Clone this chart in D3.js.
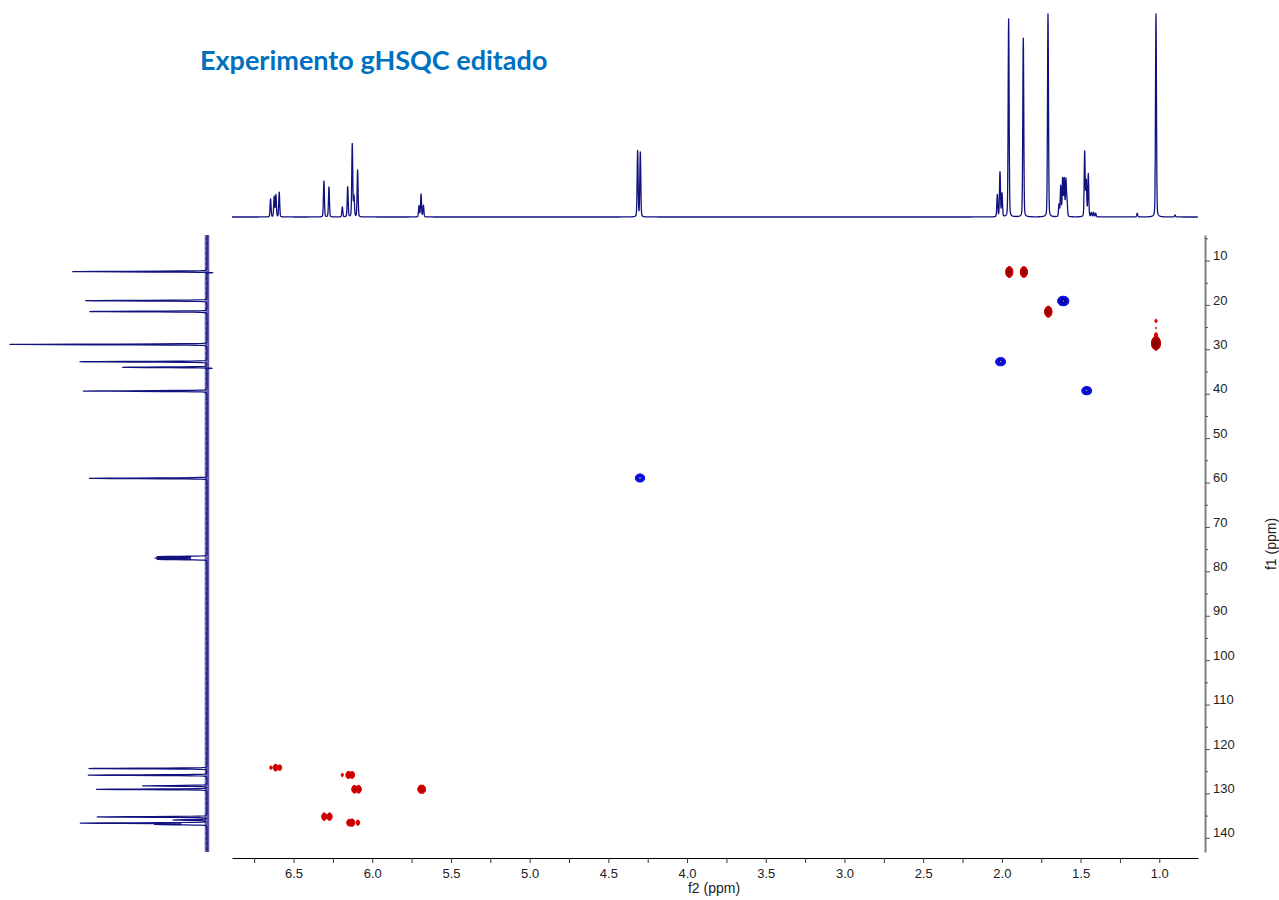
<!DOCTYPE html>
<html>
<head>
<meta charset="utf-8">
<script src="https://cdn.jsdelivr.net/npm/d3@7"></script>
<style>
  html, body { margin: 0; padding: 0; background: #ffffff; }
  svg { display: block; }
  .tick text, .lbl { font-family: "Liberation Sans", Arial, sans-serif; fill: #222; }
</style>
</head>
<body>
<svg id="chart" width="1279" height="900"></svg>
<script>
// ---------- data ----------
// 1H projection: line positions (ppm) and heights relative to the tallest line
const h1Shift  = [6.646, 6.623, 6.612, 6.591, 6.307, 6.275, 6.190, 6.156, 6.127, 6.116, 6.093,
                  5.703, 5.690, 5.675, 4.314, 4.297, 2.029, 2.012, 1.999, 1.957, 1.864, 1.707,
                  1.637, 1.626, 1.614, 1.604, 1.593, 1.586, 1.474, 1.464, 1.451, 1.432, 1.418,
                  1.404, 1.140, 1.021, 0.900];
const h1Height = [0.088, 0.100, 0.108, 0.122, 0.177, 0.148, 0.049, 0.148, 0.360, 0.100, 0.230,
                  0.054, 0.112, 0.057, 0.325, 0.318, 0.108, 0.220, 0.115, 0.975, 0.880, 1.000,
                  0.060, 0.150, 0.185, 0.185, 0.180, 0.070, 0.320, 0.175, 0.210, 0.020, 0.022,
                  0.018, 0.018, 1.000, 0.010];

// 13C projection: line positions (ppm) and heights relative to the tallest line
const c13Shift  = [12.5, 12.7, 19.05, 21.5, 28.9, 32.8, 34.05, 34.25, 39.4, 59.05, 76.7, 77.0, 77.3,
                   124.4, 125.9, 128.3, 129.1, 135.3, 136.0, 136.7, 137.0];
const c13Height = [0.684, -0.050, 0.616, 0.595, 1.000, 0.645, 0.430, -0.040, 0.628, 0.597, 0.250, 0.260, 0.250,
                   0.599, 0.602, 0.326, 0.560, 0.557, 0.171, 0.640, 0.260];

// HSQC cross peaks: 1H shift, 13C shift, signed intensity (negative = CH2 phase)
const hsqcH = [1.953, 1.860, 1.705, 1.021, 1.021, 1.021, 1.021, 1.610, 2.008, 1.461, 4.299,
               6.644, 6.614, 6.587, 6.190, 6.152, 6.127, 6.114, 6.086, 5.694, 5.678,
               6.305, 6.271, 6.148, 6.127, 6.091];
const hsqcC = [12.59, 12.59, 21.53, 28.65, 26.78, 25.20, 23.60, 19.12, 32.79, 39.32, 58.98,
               124.2, 124.2, 124.2, 125.85, 125.85, 125.85, 129.07, 129.07, 129.07, 129.07,
               135.24, 135.24, 136.6, 136.6, 136.6];
const hsqcI = [0.80, 0.78, 0.90, 6.0, 0.040, 0.022, 0.030, -0.88, -0.36, -0.36, -0.28,
               0.030, 0.085, 0.055, 0.030, 0.100, 0.090, 0.130, 0.130, 0.130, 0.130,
               0.120, 0.120, 0.080, 0.110, 0.050];

// axis ticks
const f2Ticks  = [6.75, 6.5, 6.25, 6.0, 5.75, 5.5, 5.25, 5.0, 4.75, 4.5, 4.25, 4.0, 3.75, 3.5,
                  3.25, 3.0, 2.75, 2.5, 2.25, 2.0, 1.75, 1.5, 1.25, 1.0];
const f2Labels = [6.5, 6.0, 5.5, 5.0, 4.5, 4.0, 3.5, 3.0, 2.5, 2.0, 1.5, 1.0];
const f1Ticks  = [5, 15, 25, 35, 45, 55, 65, 75, 85, 95, 105, 115, 125, 135];
const f1Labels = [10, 20, 30, 40, 50, 60, 70, 80, 90, 100, 110, 120, 130, 140];

const titleText = "Experimento gHSQC editado";
const f2Title = "f2 (ppm)";
const f1Title = "f1 (ppm)";

// ---------- layout ----------
const svg = d3.select("#chart");
const P = { x0: 232, x1: 1198, y0: 235, y1: 852 };

const x = d3.scaleLinear().domain([6.891, 0.754]).range([P.x0, P.x1]);   // f2 (1H)
const y = d3.scaleLinear().domain([4.26, 143.2]).range([P.y0, P.y1]);    // f1 (13C)
const hY = d3.scaleLinear().domain([0, 1]).range([217, 14]);             // 1H trace height
const cX = d3.scaleLinear().domain([0, 1]).range([207, 10]);             // 13C trace height

const traceColor = "#12127f";

// pseudo-Voigt line shape, d in half-widths
function lineShape(d, eta) {
  return eta / (1 + d * d) + (1 - eta) * Math.exp(-Math.LN2 * d * d);
}

// ---------- title ----------
svg.append("text")
  .attr("x", 200).attr("y", 70)
  .style("font-family", "Lato, 'Open Sans', sans-serif")
  .style("font-weight", 700)
  .style("font-size", "27px")
  .attr("fill", "#0070c0")
  .text(titleText);

// ---------- 1H projection ----------
const h1HW = 0.0036;
const h1Pts = [];
{
  const grid = d3.range(x.domain()[0], x.domain()[1], -0.001).concat(h1Shift).sort((a, b) => b - a);
  grid.forEach(p => {
    let v = 0;
    for (let i = 0; i < h1Shift.length; i++) {
      v += h1Height[i] * lineShape((p - h1Shift[i]) / h1HW, 0.2);
    }
    h1Pts.push([p, v]);
  });
}
svg.append("path")
  .datum(h1Pts)
  .attr("fill", "none")
  .attr("stroke", traceColor)
  .attr("stroke-width", 1.3)
  .attr("stroke-linejoin", "round")
  .attr("d", d3.line().x(d => x(d[0])).y(d => hY(Math.min(d[1], 1))));

// ---------- 13C projection ----------
// noisy baseline band
svg.append("line")
  .attr("x1", cX(0)).attr("x2", cX(0))
  .attr("y1", P.y0).attr("y2", P.y1)
  .attr("stroke", traceColor)
  .attr("stroke-width", 4.5)
  .attr("stroke-opacity", 0.7);
svg.append("line")
  .attr("x1", cX(0) - 0.8).attr("x2", cX(0) - 0.8)
  .attr("y1", P.y0).attr("y2", P.y1)
  .attr("stroke", "#ffffff")
  .attr("stroke-width", 1.2)
  .attr("stroke-dasharray", "2,3")
  .attr("stroke-opacity", 0.45);

const c13HW = 0.09;
const c13Pts = [];
{
  const grid = d3.range(y.domain()[0], y.domain()[1], 0.03).concat(c13Shift).sort((a, b) => a - b);
  grid.forEach(p => {
    let v = 0;
    for (let i = 0; i < c13Shift.length; i++) {
      v += c13Height[i] * lineShape((p - c13Shift[i]) / c13HW, 0.1);
    }
    c13Pts.push([p, v]);
  });
}
svg.append("path")
  .datum(c13Pts)
  .attr("fill", "none")
  .attr("stroke", traceColor)
  .attr("stroke-width", 1.2)
  .attr("stroke-linejoin", "round")
  .attr("d", d3.line().x(d => cX(d[1])).y(d => y(d[0])));

// ---------- HSQC contour map ----------
const posSig = [0.0083, 0.45];   // Gaussian sigma (1H ppm, 13C ppm), positive phase
const negSig = [0.0127, 0.38];   // negative phase
const S = 2;                     // samples per pixel
const nx = Math.round((P.x1 - P.x0) * S), ny = Math.round((P.y1 - P.y0) * S);
const field = new Float64Array(nx * ny);

hsqcH.forEach((h, k) => {
  const c = hsqcC[k], I = hsqcI[k];
  const sig = I > 0 ? posSig : negSig;
  const cx = (x(h) - P.x0) * S, cy = (y(c) - P.y0) * S;
  const sx = Math.abs(x(h + sig[0]) - x(h)) * S;
  const sy = Math.abs(y(c + sig[1]) - y(c)) * S;
  const i0 = Math.max(0, Math.floor(cx - 5 * sx)), i1 = Math.min(nx - 1, Math.ceil(cx + 5 * sx));
  const j0 = Math.max(0, Math.floor(cy - 5 * sy)), j1 = Math.min(ny - 1, Math.ceil(cy + 5 * sy));
  for (let j = j0; j <= j1; j++) {
    const dy = (j + 0.5 - cy) / sy;
    for (let i = i0; i <= i1; i++) {
      const dx = (i + 0.5 - cx) / sx;
      field[j * nx + i] += I * Math.exp(-0.5 * (dx * dx + dy * dy));
    }
  }
});

const levels = d3.range(24).map(k => 0.02 * Math.pow(1.35, k));
const posColor = d3.scaleLinear().domain([0, 4, 11]).range(["#e60000", "#c80000", "#900000"]).clamp(true);
const negColor = d3.scaleLinear().domain([0, 12]).range(["#1c1cff", "#0000a0"]).clamp(true);

const contourGen = d3.contours().size([nx, ny]).thresholds(levels);
const posContours = contourGen(field).filter(d => d.coordinates.length);
const negContours = contourGen(field.map(v => -v)).filter(d => d.coordinates.length);
const cpath = d3.geoPath(d3.geoIdentity().scale(1 / S).translate([P.x0, P.y0]));

const gMap = svg.append("g");
gMap.selectAll("path.pos").data(posContours).join("path")
  .attr("class", "pos")
  .attr("d", cpath)
  .attr("fill", d => posColor(levels.indexOf(d.value)))
  .attr("stroke", d => posColor(levels.indexOf(d.value)))
  .attr("stroke-width", 0.8);
gMap.selectAll("path.neg").data(negContours).join("path")
  .attr("class", "neg")
  .attr("d", cpath)
  .attr("fill", "none")
  .attr("stroke", d => negColor(levels.indexOf(d.value)))
  .attr("stroke-width", 1.1);

// ---------- f2 axis ----------
const fmt1 = d3.format(".1f");
const xAxis = svg.append("g")
  .attr("transform", "translate(0,858)")
  .call(d3.axisBottom(x)
    .tickValues(f2Ticks)
    .tickSize(5).tickSizeOuter(0).tickPadding(6)
    .tickFormat(v => f2Labels.includes(v) ? fmt1(v) : ""));
xAxis.select(".domain").attr("stroke", "#000").attr("stroke-width", 1.2);
xAxis.selectAll(".tick line").attr("stroke", "#333");
xAxis.selectAll(".tick text").style("font-size", "13px");

svg.append("text").attr("class", "lbl")
  .attr("x", 714).attr("y", 893)
  .attr("text-anchor", "middle")
  .style("font-size", "14px")
  .text(f2Title);

// ---------- f1 axis ----------
const yMinor = svg.append("g")
  .attr("transform", "translate(1205,0)")
  .call(d3.axisRight(y).tickValues(f1Ticks).tickSize(3).tickSizeOuter(0).tickFormat(""));
yMinor.select(".domain").attr("stroke", "#7f7f7f").attr("stroke-width", 2);
yMinor.selectAll(".tick line").attr("stroke", "#555");

const yMajor = svg.append("g")
  .attr("transform", "translate(1205,0)")
  .call(d3.axisRight(y).tickValues(f1Labels).tickSize(5).tickSizeOuter(0).tickPadding(3)
    .tickFormat(d3.format("d")));
yMajor.select(".domain").remove();
yMajor.selectAll(".tick line").attr("stroke", "#555");
yMajor.selectAll(".tick text").attr("y", -5).style("font-size", "13px");

svg.append("text").attr("class", "lbl")
  .attr("transform", "translate(1276,544) rotate(-90)")
  .attr("text-anchor", "middle")
  .style("font-size", "14px")
  .text(f1Title);
</script>
</body>
</html>
